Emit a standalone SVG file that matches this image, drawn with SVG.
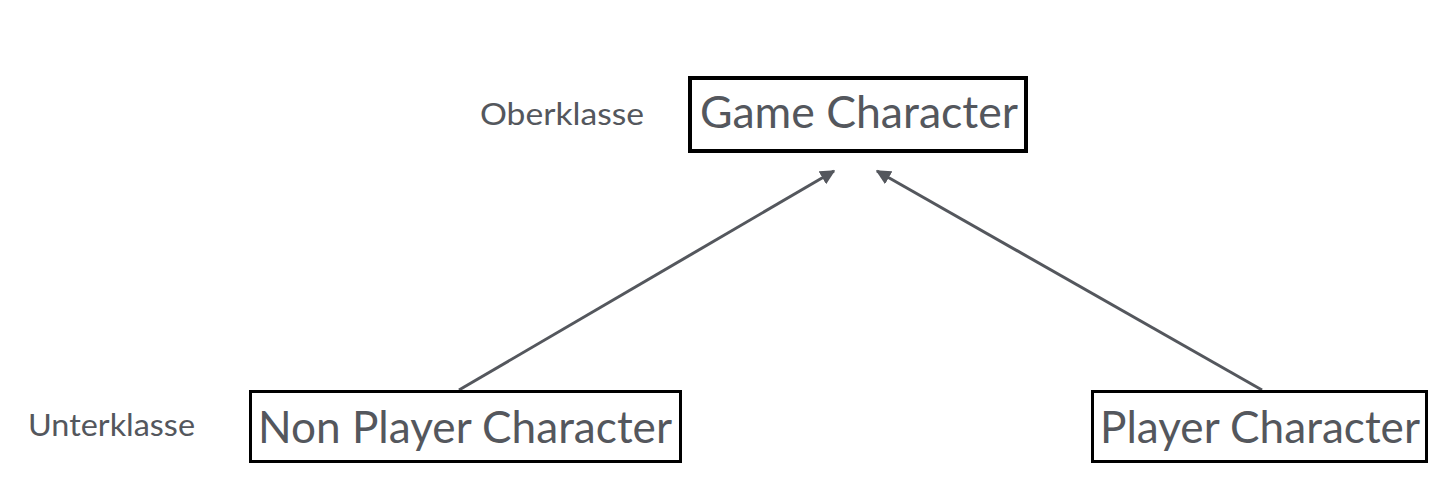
<svg xmlns="http://www.w3.org/2000/svg" width="1446" height="488" viewBox="0 0 1446 488">
<style>
.box{fill:#fff;stroke:#000}
.t{font-family:Lato,"Open Sans",sans-serif;fill:#54575d}
.big{font-size:44px}
.lab{font-size:30px}
.con{stroke:#54575d;stroke-width:3;fill:none}
</style>
<defs>
<marker id="ah" viewBox="0 0 10 10" refX="9" refY="5" markerWidth="5" markerHeight="5" orient="auto" markerUnits="strokeWidth">
<path d="M0,0 L10,5 L0,10 z" fill="#54575d"/>
</marker>
</defs>
<rect width="1446" height="488" fill="#fff"/>
<g id="connectors">
<line class="con" x1="459" y1="390" x2="834" y2="171" marker-end="url(#ah)"/>
<line class="con" x1="1262" y1="390" x2="877" y2="171" marker-end="url(#ah)"/>
</g>
<g id="game-character">
<rect class="box" x="690" y="78" width="336" height="73" stroke-width="4"/>
<text class="t big" x="700" y="128" textLength="318" lengthAdjust="spacingAndGlyphs">Game Character</text>
</g>
<g id="non-player-character">
<rect class="box" x="250.5" y="391.5" width="430" height="70" stroke-width="3"/>
<text class="t big" x="258" y="443" textLength="414" lengthAdjust="spacingAndGlyphs">Non Player Character</text>
</g>
<g id="player-character">
<rect class="box" x="1092.5" y="391.5" width="334" height="70" stroke-width="3"/>
<text class="t big" x="1100" y="443" textLength="320" lengthAdjust="spacingAndGlyphs">Player Character</text>
</g>
<g id="oberklasse">
<text class="t lab" x="480" y="125" textLength="164" lengthAdjust="spacingAndGlyphs">Oberklasse</text>
</g>
<g id="unterklasse">
<text class="t lab" x="28" y="436" textLength="167" lengthAdjust="spacingAndGlyphs">Unterklasse</text>
</g>
</svg>
